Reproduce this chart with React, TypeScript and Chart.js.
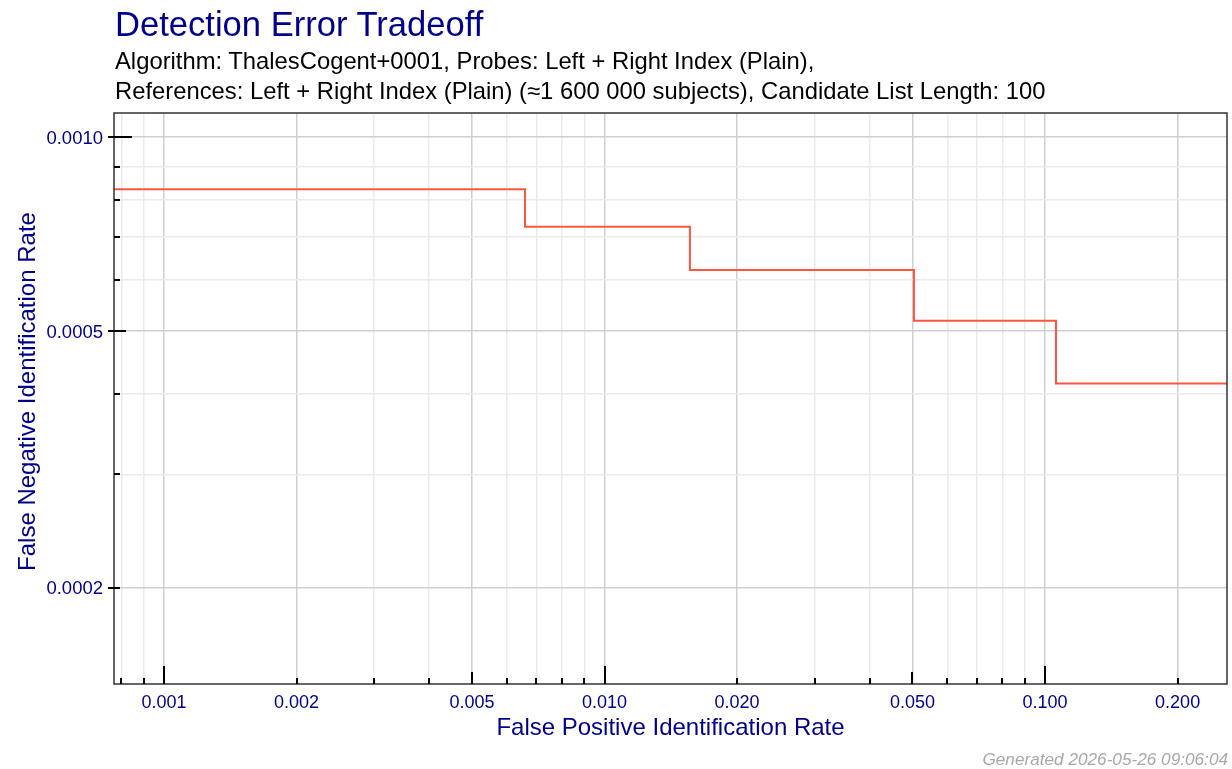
import React, { useEffect, useRef } from 'react';
import { Chart, registerables } from 'chart.js';

Chart.register(...registerables);

const TITLE = 'Detection Error Tradeoff';
const SUBTITLE_LINES = [
  'Algorithm: ThalesCogent+0001, Probes: Left + Right Index (Plain),',
  'References: Left + Right Index (Plain) (≈1 600 000 subjects), Candidate List Length: 100',
];
const FOOTER = 'Generated 2026-05-26 09:06:04';
const X_TITLE = 'False Positive Identification Rate';
const Y_TITLE = 'False Negative Identification Rate';

// DET curve (step function)
const fpir = [0.0007, 0.0066, 0.01563, 0.0504, 0.1059, 0.3];
const fnir = [0.00083, 0.000726, 0.000622, 0.000519, 0.000415, 0.000415];

const X_MIN = 0.00077;
const X_MAX = 0.2589;
const Y_MIN = 0.0001419;
const Y_MAX = 0.0010895;

const xLabelTicks = [0.001, 0.002, 0.005, 0.01, 0.02, 0.05, 0.1, 0.2];
const xLabels = ['0.001', '0.002', '0.005', '0.010', '0.020', '0.050', '0.100', '0.200'];
const xMinorTicks = [0.0008, 0.0009, 0.003, 0.004, 0.006, 0.007, 0.008, 0.009, 0.03, 0.04, 0.06, 0.07, 0.08, 0.09];
const yLabelTicks = [0.0002, 0.0005, 0.001];
const yLabels = ['0.0002', '0.0005', '0.0010'];
const yMinorTicks = [0.0003, 0.0004, 0.0006, 0.0007, 0.0008, 0.0009];

const NAVY = '#00008B';
const FONT = "'Liberation Sans', Arial, Helvetica, sans-serif";

const isMajor = (v: number, majors: number[]) => majors.some((m) => Math.abs(m - v) / m < 1e-6);
const tickLen = (v: number) => {
  const m = Math.round(v / Math.pow(10, Math.floor(Math.log10(v) + 1e-9)));
  if (m === 1) return 18;
  if (m === 5) return 12;
  return 6;
};

const axisPlugin = {
  id: 'detAxes',
  afterDatasetsDraw(chart: any) {
    const { ctx, chartArea } = chart;
    const xs = chart.scales.x;
    const ys = chart.scales.y;
    const { left, right, top, bottom } = chartArea;
    ctx.save();
    // box border
    ctx.strokeStyle = '#333333';
    ctx.lineWidth = 1.5;
    ctx.strokeRect(left, top, right - left, bottom - top);

    // ticks
    ctx.strokeStyle = '#000000';
    ctx.lineWidth = 2;
    ctx.lineCap = 'butt';
    [...xLabelTicks, ...xMinorTicks].forEach((v) => {
      const px = Math.round(xs.getPixelForValue(v));
      ctx.beginPath();
      ctx.moveTo(px, bottom);
      ctx.lineTo(px, bottom - tickLen(v));
      ctx.stroke();
    });
    [...yLabelTicks, ...yMinorTicks].forEach((v) => {
      const py = Math.round(ys.getPixelForValue(v));
      const out = isMajor(v, yLabelTicks) ? 6 : 0;
      ctx.beginPath();
      ctx.moveTo(left - out, py);
      ctx.lineTo(left + tickLen(v), py);
      ctx.stroke();
    });

    // tick labels
    ctx.fillStyle = NAVY;
    ctx.font = `18px ${FONT}`;
    ctx.textBaseline = 'alphabetic';
    ctx.textAlign = 'center';
    xLabelTicks.forEach((v, i) => {
      ctx.fillText(xLabels[i], xs.getPixelForValue(v), bottom + 24);
    });
    ctx.font = `18.5px ${FONT}`;
    ctx.textAlign = 'right';
    yLabelTicks.forEach((v, i) => {
      ctx.fillText(yLabels[i], left - 11, ys.getPixelForValue(v) + 6.5);
    });

    // axis titles
    ctx.font = `24px ${FONT}`;
    ctx.textAlign = 'center';
    ctx.fillText(X_TITLE, (left + right) / 2, bottom + 51);
    ctx.save();
    ctx.translate(35, (top + bottom) / 2 - 7);
    ctx.rotate(-Math.PI / 2);
    ctx.fillText(Y_TITLE, 0, 0);
    ctx.restore();
    ctx.restore();
  },
};

export default function App() {
  const canvasRef = useRef<HTMLCanvasElement | null>(null);

  useEffect(() => {
    if (!canvasRef.current) return;
    const points = fpir.map((x, i) => ({ x, y: fnir[i] }));
    const chart = new Chart(canvasRef.current, {
      type: 'line',
      data: {
        datasets: [
          {
            data: points,
            borderColor: '#ff5640',
            borderWidth: 2,
            pointRadius: 0,
            stepped: 'before',
            fill: false,
          },
        ],
      },
      options: {
        animation: false,
        responsive: false,
        maintainAspectRatio: false,
        devicePixelRatio: 1,
        layout: { padding: { left: 114, top: 113, right: 5, bottom: 85 } },
        plugins: { legend: { display: false }, tooltip: { enabled: false }, title: { display: false } },
        scales: {
          x: {
            type: 'logarithmic',
            min: X_MIN,
            max: X_MAX,
            border: { display: false },
            ticks: { display: false },
            grid: {
              drawTicks: false,
              lineWidth: 1.5,
              color: (c: any) => (isMajor(c.tick?.value, xLabelTicks) ? '#cfcfcf' : '#ebebeb'),
            },
            afterBuildTicks: (s: any) => {
              s.ticks = [...xMinorTicks, ...xLabelTicks].map((v) => ({ value: v }));
            },
            afterFit: (s: any) => {
              s.height = 0;
            },
          },
          y: {
            type: 'logarithmic',
            min: Y_MIN,
            max: Y_MAX,
            border: { display: false },
            ticks: { display: false },
            grid: {
              drawTicks: false,
              lineWidth: 1.5,
              color: (c: any) => (isMajor(c.tick?.value, yLabelTicks) ? '#cfcfcf' : '#ebebeb'),
            },
            afterBuildTicks: (s: any) => {
              s.ticks = [...yMinorTicks, ...yLabelTicks].map((v) => ({ value: v }));
            },
            afterFit: (s: any) => {
              s.width = 0;
            },
          },
        },
      },
      plugins: [axisPlugin],
    } as any);
    return () => chart.destroy();
  }, []);

  const fsTitle = 34.6;
  const fsSub = 23.8;
  const fsFoot = 17.2;
  return (
    <div style={{ position: 'absolute', left: 0, top: 0, width: 1232, height: 769, background: '#fff', overflow: 'hidden', fontFamily: FONT }}>
      <canvas ref={canvasRef} width={1232} height={769} style={{ position: 'absolute', left: 0, top: 0, width: 1232, height: 769 }} />
      <div style={{ position: 'absolute', left: 115, top: 36 - 0.8465 * fsTitle, fontSize: fsTitle, lineHeight: `${fsTitle}px`, color: NAVY, whiteSpace: 'nowrap' }}>
        {TITLE}
      </div>
      {SUBTITLE_LINES.map((line, i) => (
        <div
          key={i}
          style={{ position: 'absolute', left: 115, top: (i === 0 ? 69 : 99) - 0.8465 * fsSub, fontSize: fsSub, lineHeight: `${fsSub}px`, color: '#000', whiteSpace: 'nowrap' }}
        >
          {line}
        </div>
      ))}
      <div style={{ position: 'absolute', right: 4, top: 766 - 0.8465 * fsFoot, fontSize: fsFoot, lineHeight: `${fsFoot}px`, color: '#a8a8a8', fontStyle: 'italic', whiteSpace: 'nowrap' }}>
        {FOOTER}
      </div>
    </div>
  );
}
